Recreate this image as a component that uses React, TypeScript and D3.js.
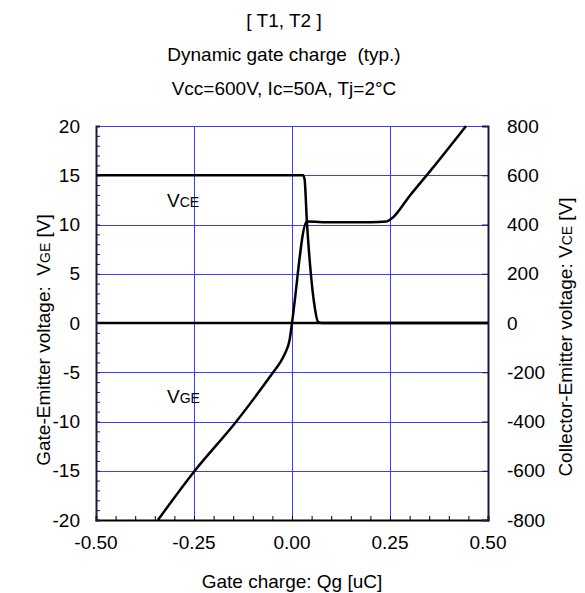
import React, { useEffect, useRef } from 'react';
import * as d3 from 'd3';

const titleLines = ['[ T1, T2 ]', 'Dynamic gate charge  (typ.)', 'Vcc=600V, Ic=50A, Tj=2°C'];

// gate charge [uC] / VGE [V]
const vgeCharge = [-0.342, -0.248, -0.142, -0.048, -0.03, -0.018, -0.006, 0.0, 0.038, 0.1, 0.2, 0.241, 0.254, 0.3, 0.356, 0.444];
const vgeValues = [-20, -15, -10, -5, -4, -3.1, -1.7, 0, 10.3, 10.22, 10.22, 10.3, 10.6, 12.9, 15.6, 20];

// gate charge [uC] / VCE [V]
const vceCharge = [-0.5, 0.028, 0.032, 0.038, 0.048, 0.0565, 0.0665, 0.075, 0.5];
const vceValues = [600, 600, 585, 411, 202, 80, 5, 0, 0];

const xTicks = [-0.5, -0.25, 0, 0.25, 0.5];
const leftTicks = [-20, -15, -10, -5, 0, 5, 10, 15, 20];
const rightTicks = [-800, -600, -400, -200, 0, 200, 400, 600, 800];

const W = 585;
const H = 593;
const FONT = '"Liberation Sans", Arial, sans-serif';

const App = () => {
  const svgRef = useRef<SVGSVGElement | null>(null);

  useEffect(() => {
    const svg = d3.select(svgRef.current);
    svg.selectAll('*').remove();

    const left = 96, right = 488, top = 126, bottom = 520;
    const x = d3.scaleLinear().domain([-0.5, 0.5]).range([left, right]);
    const yL = d3.scaleLinear().domain([-20, 20]).range([bottom, top]);
    const yR = d3.scaleLinear().domain([-800, 800]).range([bottom, top]);
    const crisp = (v: number) => Math.round(v) + 0.5;

    const g = svg.append('g').style('font-family', FONT);

    // titles
    titleLines.forEach((t, i) => {
      g.append('text')
        .attr('x', 284)
        .attr('y', 27 + i * 34)
        .attr('text-anchor', 'middle')
        .style('font-size', '19px')
        .style('white-space', 'pre')
        .text(t);
    });

    // grid
    const grid = g.append('g').attr('stroke', '#3c3cff').attr('stroke-width', 1);
    xTicks.slice(1, -1).forEach(v => {
      grid.append('line').attr('x1', crisp(x(v))).attr('x2', crisp(x(v))).attr('y1', top).attr('y2', bottom);
    });
    leftTicks.slice(1).forEach(v => {
      grid.append('line').attr('x1', left).attr('x2', right).attr('y1', crisp(yL(v))).attr('y2', crisp(yL(v)));
    });

    // zero line
    g.append('line')
      .attr('x1', left).attr('x2', right)
      .attr('y1', yL(0)).attr('y2', yL(0))
      .attr('stroke', '#000').attr('stroke-width', 2.5);

    // bottom axis
    const bx = g.append('g').attr('transform', `translate(0,${bottom})`);
    bx.call(d3.axisBottom(x).tickValues(d3.range(-0.5, 0.5001, 0.05)).tickSize(-4).tickFormat(() => ''));
    bx.select('.domain').attr('stroke', '#000').attr('stroke-width', 2);
    bx.selectAll('.tick line').attr('stroke', '#000');
    xTicks.forEach(v => {
      g.append('text')
        .attr('x', x(v))
        .attr('y', 549)
        .attr('text-anchor', 'middle')
        .style('font-size', '19px')
        .text(v.toFixed(2));
    });

    // left axis
    const ly = g.append('g').attr('transform', `translate(${left},0)`);
    ly.call(d3.axisLeft(yL).tickValues(d3.range(-20, 21, 1)).tickSize(-4).tickFormat(() => ''));
    ly.select('.domain').attr('stroke', '#1a1a40').attr('stroke-width', 2);
    ly.selectAll('.tick line').attr('stroke', '#1a1a40');
    leftTicks.forEach(v => {
      g.append('text')
        .attr('x', 80)
        .attr('y', yL(v))
        .attr('dy', '0.35em')
        .attr('text-anchor', 'end')
        .style('font-size', '19px')
        .text(String(v));
    });

    // right axis
    const ry = g.append('g').attr('transform', `translate(${right},0)`);
    ry.call(d3.axisRight(yR).tickValues(rightTicks).tickSize(-6).tickFormat(() => ''));
    ry.select('.domain').attr('stroke', '#1a1a40').attr('stroke-width', 2);
    ry.selectAll('.tick line').attr('stroke', '#1a1a40');
    rightTicks.forEach(v => {
      g.append('text')
        .attr('x', 507)
        .attr('y', yR(v))
        .attr('dy', '0.35em')
        .attr('text-anchor', 'start')
        .style('font-size', '19px')
        .text(String(v));
    });

    // curves
    const lineL = d3.line<number>()
      .x((_, i) => x(vgeCharge[i]))
      .y(d => yL(d))
      .curve(d3.curveMonotoneX);
    const lineR = d3.line<number>()
      .x((_, i) => x(vceCharge[i]))
      .y(d => yR(d))
      .curve(d3.curveMonotoneX);

    g.append('path')
      .attr('d', lineR(vceValues))
      .attr('fill', 'none')
      .attr('stroke', '#000')
      .attr('stroke-width', 2.5);
    g.append('path')
      .attr('d', lineL(vgeValues))
      .attr('fill', 'none')
      .attr('stroke', '#000')
      .attr('stroke-width', 2.5);

    // inline labels with subscripts
    const subLabel = (px: number, py: number, sub: string) => {
      const t = g.append('text').attr('x', px).attr('y', py).style('font-size', '19px');
      t.append('tspan').text('V');
      t.append('tspan').style('font-size', '14px').text(sub);
    };
    subLabel(167, 207, 'CE');
    subLabel(167, 403, 'GE');

    // axis titles
    g.append('text')
      .attr('x', 292)
      .attr('y', 588)
      .attr('text-anchor', 'middle')
      .style('font-size', '19px')
      .text('Gate charge: Qg [uC]');

    const yLabel = (px: number, py: number, pre: string, sub: string, post: string) => {
      const t = g.append('text')
        .attr('transform', `translate(${px},${py}) rotate(-90)`)
        .attr('text-anchor', 'middle')
        .style('font-size', '19px')
        .style('white-space', 'pre');
      t.append('tspan').text(pre);
      t.append('tspan').style('font-size', '14px').text(sub);
      t.append('tspan').text(post);
    };
    yLabel(50, 340, 'Gate-Emitter voltage:  V', 'GE', ' [V]');
    yLabel(572, 337, 'Collector-Emitter voltage: V', 'CE', ' [V]');
  }, []);

  return (
    <svg
      ref={svgRef}
      width={W}
      height={H}
      style={{ position: 'absolute', left: 0, top: 0, background: '#fff' }}
    />
  );
};

export default App;
